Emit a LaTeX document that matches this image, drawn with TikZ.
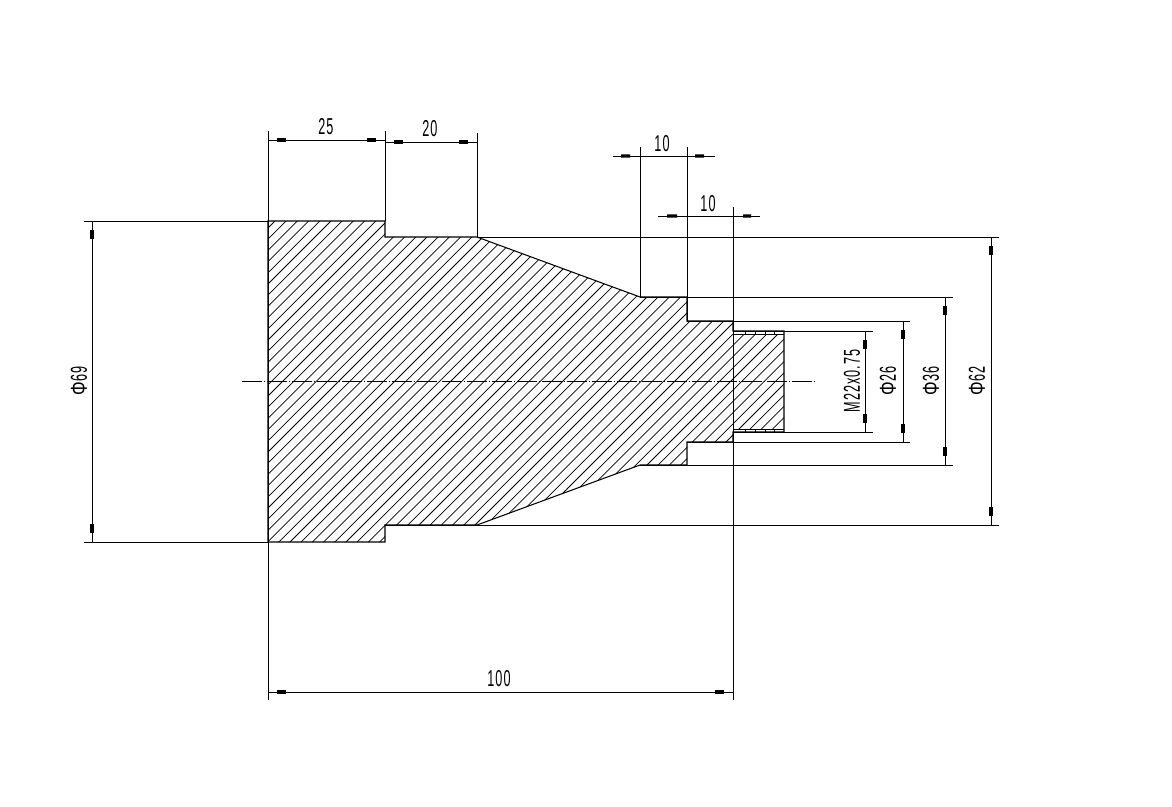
\documentclass[tikz,border=0pt]{standalone}
\usepackage{fontspec}
\setmainfont{Liberation Sans}[LetterSpace=8]
\usetikzlibrary{calc}
\tikzset{
  every picture/.style={x=1pt,y=-1pt},
  part/.style={line width=1.05pt,black},
  dimline/.style={line width=1.0pt,black},
  hatch/.style={line width=.75pt,black},
  centre/.style={line width=1pt,black,dash pattern=on 19.5pt off 2pt on 1.5pt off 2pt},
  dimtext/.style={inner sep=0pt,font=\fontsize{23}{23}\selectfont}
}
% arrow bar: from tip #1 towards #2, between 9 and 18 px from the tip
\newcommand\tipbar[2]{\fill let \p1=($(#2)-(#1)$), \n1={atan2(\y1,\x1)} in
  [shift={(#1)},rotate=\n1] (9pt,-1.6pt) rectangle (18pt,1.6pt);}
\newcommand\narrowtext[1]{\scalebox{.55}[1]{#1}}
\newcommand\phisym{\scalebox{1.35}[1]{Φ}\kern2pt}
\begin{document}
\begin{tikzpicture}
\path[use as bounding box,fill=white] (0,0) rectangle (1172,806);
% named points of the profile
\coordinate (a1) at (268,221); \coordinate (a2) at (385,221); \coordinate (a3) at (385,237);
\coordinate (a4) at (477,237); \coordinate (a5) at (640,297); \coordinate (a6) at (687,297);
\coordinate (a7) at (687,321); \coordinate (a8) at (733,321); \coordinate (a9) at (733,331);
\coordinate (a10) at (784,331); \coordinate (a11) at (784,432); \coordinate (a12) at (733,432);
\coordinate (a13) at (733,442); \coordinate (a14) at (687,442); \coordinate (a15) at (687,465);
\coordinate (a16) at (640,465); \coordinate (a17) at (477,525); \coordinate (a18) at (385,525);
\coordinate (a19) at (385,542); \coordinate (a20) at (268,542);
% hatching
\begin{scope}
\clip (a1)--(a2)--(a3)--(a4)--(a5)--(a6)--(a7)--(a8)--(a9)--(a10)--(a11)--(a12)--(a13)--(a14)--(a15)--(a16)--(a17)--(a18)--(a19)--(a20)--cycle;
\foreach \k in {0,...,80}{
  \draw[hatch] ({275+\k*11.2},221) -- ++(-340,340);
}
\fill[white] (733,331) rectangle (784,334) (733,429) rectangle (784,432);
\end{scope}
% profile
\draw[part] (a1)--(a2)--(a3)--(a4)--(a5)--(a6)--(a7)--(a8)--(a9)--(a10)--(a11)--(a12)--(a13)--(a14)--(a15)--(a16)--(a17)--(a18)--(a19)--(a20)--cycle;
% thread
\draw[hatch] (733,334)--(784,334) (733,429)--(784,429);
\foreach \x in {745,755,765,774}{\draw[hatch] (\x,331)--(\x,334) (\x,429)--(\x,432);}
% centre line
\draw[centre] (242,381)--(815,381);
% horizontal extension lines
\draw[dimline] (84,221)--(a1) (84,542)--(a20);
\draw[dimline] (a4)--(999,237) (a18)--(999,525);
\draw[dimline] (a5)--(953,297) (a16)--(953,465);
\draw[dimline] (a7)--(910,321) (a14)--(910,442);
\draw[dimline] (a9)--(873,331) (a12)--(873,432);
% vertical extension lines
\draw[dimline] (268,131)--(268,700);
\draw[dimline] (385,131)--(a2);
\draw[dimline] (477,133)--(a4);
\draw[dimline] (640,147)--(a5);
\draw[dimline] (687,147)--(a7);
\draw[dimline] (733,207)--(733,700);
% dimension 25
\coordinate (p) at (268,140); \coordinate (q) at (385,140);
\draw[dimline] (p)--(q); \tipbar{p}{q} \tipbar{q}{p}
\node[dimtext] at (326,127) {\narrowtext{25}};
% dimension 20
\coordinate (p) at (385,142); \coordinate (q) at (477,142);
\draw[dimline] (p)--(q); \tipbar{p}{q} \tipbar{q}{p}
\node[dimtext] at (430,129) {\narrowtext{20}};
% dimension 10 upper
\draw[dimline] (613,156)--(715,156);
\fill (621,154.4) rectangle (630,157.6) (695,154.4) rectangle (704,157.6);
\node[dimtext] at (662,144) {\narrowtext{10}};
% dimension 10 lower
\draw[dimline] (658,216)--(760,216);
\fill (667,214.4) rectangle (677,217.6) (743,214.4) rectangle (751,217.6);
\node[dimtext] at (708,204) {\narrowtext{10}};
% dimension 100
\coordinate (p) at (268,692); \coordinate (q) at (733,692);
\draw[dimline] (p)--(q); \tipbar{p}{q} \tipbar{q}{p}
\node[dimtext] at (499,679) {\narrowtext{100}};
% diameters
\coordinate (p) at (92,221); \coordinate (q) at (92,542);
\draw[dimline] (p)--(q); \tipbar{p}{q} \tipbar{q}{p}
\node[dimtext,rotate=90] at (79,381) {\narrowtext{\phisym 69}};
\coordinate (p) at (865,331); \coordinate (q) at (865,432);
\draw[dimline] (p)--(q); \tipbar{p}{q} \tipbar{q}{p}
\node[dimtext,rotate=90] at (852,381) {\narrowtext{M22x0.75}};
\coordinate (p) at (903,321); \coordinate (q) at (903,442);
\draw[dimline] (p)--(q); \tipbar{p}{q} \tipbar{q}{p}
\node[dimtext,rotate=90] at (888,381) {\narrowtext{\phisym 26}};
\coordinate (p) at (945,297); \coordinate (q) at (945,465);
\draw[dimline] (p)--(q); \tipbar{p}{q} \tipbar{q}{p}
\node[dimtext,rotate=90] at (931,381) {\narrowtext{\phisym 36}};
\coordinate (p) at (991,237); \coordinate (q) at (991,525);
\draw[dimline] (p)--(q); \tipbar{p}{q} \tipbar{q}{p}
\node[dimtext,rotate=90] at (977,381) {\narrowtext{\phisym 62}};
\end{tikzpicture}
\end{document}
